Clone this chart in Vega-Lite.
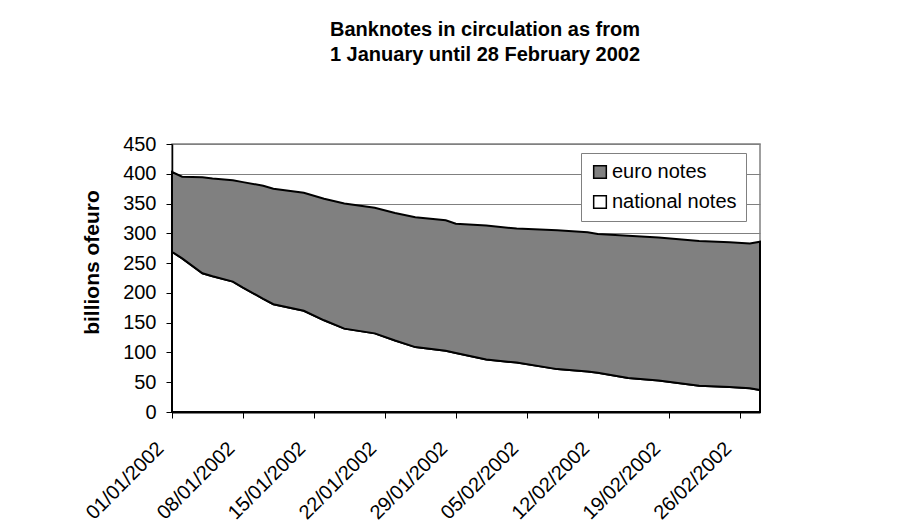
{
  "$schema": "https://vega.github.io/schema/vega-lite/v6.json",
  "autosize": "none",
  "width": 588,
  "height": 268,
  "padding": {"left": 172, "top": 144, "right": 146, "bottom": 119},
  "background": "white",
  "config": {
    "font": "Liberation Sans",
    "view": {"stroke": "#808080", "strokeWidth": 1.5}
  },
  "title": {
    "text": ["Banknotes in circulation as from", "1 January until 28 February 2002"],
    "fontSize": 20,
    "fontWeight": "bold",
    "font": "Liberation Sans",
    "color": "black",
    "anchor": "middle",
    "dx": 19,
    "offset": 69,
    "lineHeight": 25
  },
  "data": {
    "values": [
      {"date": "2002-01-01", "series": "national notes", "value": 269},
      {"date": "2002-01-02", "series": "national notes", "value": 258},
      {"date": "2002-01-04", "series": "national notes", "value": 233},
      {"date": "2002-01-05", "series": "national notes", "value": 228},
      {"date": "2002-01-07", "series": "national notes", "value": 219},
      {"date": "2002-01-08", "series": "national notes", "value": 209},
      {"date": "2002-01-10", "series": "national notes", "value": 190},
      {"date": "2002-01-11", "series": "national notes", "value": 181},
      {"date": "2002-01-14", "series": "national notes", "value": 170},
      {"date": "2002-01-16", "series": "national notes", "value": 154},
      {"date": "2002-01-18", "series": "national notes", "value": 140},
      {"date": "2002-01-21", "series": "national notes", "value": 132},
      {"date": "2002-01-23", "series": "national notes", "value": 120},
      {"date": "2002-01-25", "series": "national notes", "value": 109},
      {"date": "2002-01-28", "series": "national notes", "value": 103},
      {"date": "2002-01-29", "series": "national notes", "value": 99},
      {"date": "2002-02-01", "series": "national notes", "value": 88},
      {"date": "2002-02-04", "series": "national notes", "value": 83},
      {"date": "2002-02-08", "series": "national notes", "value": 72},
      {"date": "2002-02-11", "series": "national notes", "value": 68},
      {"date": "2002-02-12", "series": "national notes", "value": 66},
      {"date": "2002-02-15", "series": "national notes", "value": 57},
      {"date": "2002-02-18", "series": "national notes", "value": 53},
      {"date": "2002-02-22", "series": "national notes", "value": 44},
      {"date": "2002-02-25", "series": "national notes", "value": 42},
      {"date": "2002-02-27", "series": "national notes", "value": 40},
      {"date": "2002-02-28", "series": "national notes", "value": 37},
      {"date": "2002-01-01", "series": "euro notes", "value": 134},
      {"date": "2002-01-02", "series": "euro notes", "value": 137},
      {"date": "2002-01-04", "series": "euro notes", "value": 161},
      {"date": "2002-01-05", "series": "euro notes", "value": 164},
      {"date": "2002-01-07", "series": "euro notes", "value": 170},
      {"date": "2002-01-08", "series": "euro notes", "value": 177},
      {"date": "2002-01-10", "series": "euro notes", "value": 190},
      {"date": "2002-01-11", "series": "euro notes", "value": 194},
      {"date": "2002-01-14", "series": "euro notes", "value": 198},
      {"date": "2002-01-16", "series": "euro notes", "value": 204},
      {"date": "2002-01-18", "series": "euro notes", "value": 210},
      {"date": "2002-01-21", "series": "euro notes", "value": 211},
      {"date": "2002-01-23", "series": "euro notes", "value": 214},
      {"date": "2002-01-25", "series": "euro notes", "value": 218},
      {"date": "2002-01-28", "series": "euro notes", "value": 219},
      {"date": "2002-01-29", "series": "euro notes", "value": 217},
      {"date": "2002-02-01", "series": "euro notes", "value": 225},
      {"date": "2002-02-04", "series": "euro notes", "value": 225},
      {"date": "2002-02-08", "series": "euro notes", "value": 233},
      {"date": "2002-02-11", "series": "euro notes", "value": 234},
      {"date": "2002-02-12", "series": "euro notes", "value": 233},
      {"date": "2002-02-15", "series": "euro notes", "value": 239},
      {"date": "2002-02-18", "series": "euro notes", "value": 240},
      {"date": "2002-02-22", "series": "euro notes", "value": 243},
      {"date": "2002-02-25", "series": "euro notes", "value": 243},
      {"date": "2002-02-27", "series": "euro notes", "value": 243},
      {"date": "2002-02-28", "series": "euro notes", "value": 249}
    ]
  },
  "mark": {"type": "area", "stroke": "black", "strokeWidth": 2, "interpolate": "linear", "opacity": 1, "fillOpacity": 1},
  "encoding": {
    "x": {
      "field": "date",
      "type": "temporal",
      "scale": {"type": "utc", "domain": [{"year": 2002, "month": 1, "date": 1, "utc": true}, {"year": 2002, "month": 2, "date": 28, "utc": true}], "nice": false},
      "axis": {
        "title": null,
        "values": [
          {"year": 2002, "month": 1, "date": 1, "utc": true},
          {"year": 2002, "month": 1, "date": 8, "utc": true},
          {"year": 2002, "month": 1, "date": 15, "utc": true},
          {"year": 2002, "month": 1, "date": 22, "utc": true},
          {"year": 2002, "month": 1, "date": 29, "utc": true},
          {"year": 2002, "month": 2, "date": 5, "utc": true},
          {"year": 2002, "month": 2, "date": 12, "utc": true},
          {"year": 2002, "month": 2, "date": 19, "utc": true},
          {"year": 2002, "month": 2, "date": 26, "utc": true}
        ],
        "format": "%d/%m/%Y",
        "grid": false,
        "domainColor": "black",
        "domainWidth": 2,
        "tickColor": "black",
        "tickSize": 6,
        "tickWidth": 1,
        "labelAngle": -45,
        "labelAlign": "right",
        "labelBaseline": "top",
        "labelPadding": 20,
        "labelOffset": -19,
        "labelFontSize": 20,
        "labelColor": "black",
        "labelFont": "Liberation Sans",
        "labelOverlap": false,
        "labelFlush": false
      }
    },
    "y": {
      "field": "value",
      "type": "quantitative",
      "stack": "zero",
      "scale": {"domain": [0, 450], "nice": false, "zero": true},
      "axis": {
        "title": "billions ofeuro",
        "titleFontSize": 21,
        "titleFontWeight": "bold",
        "titleColor": "black",
        "titleFont": "Liberation Sans",
        "titleX": -80,
        "titleY": 118,
        "titleAngle": -90,
        "titleAlign": "center",
        "titleBaseline": "middle",
        "values": [0, 50, 100, 150, 200, 250, 300, 350, 400, 450],
        "grid": true,
        "gridColor": "#808080",
        "gridWidth": 1,
        "domainColor": "black",
        "domainWidth": 1.5,
        "tickColor": "black",
        "tickSize": 6,
        "labelFontSize": 20,
        "labelColor": "black",
        "labelFont": "Liberation Sans",
        "labelPadding": 10,
        "labelFlush": false
      }
    },
    "color": {
      "field": "series",
      "type": "nominal",
      "scale": {"domain": ["euro notes", "national notes"], "range": ["#808080", "#ffffff"]},
      "legend": {
        "title": null,
        "orient": "none",
        "legendX": 409,
        "legendY": 9,
        "direction": "vertical",
        "strokeColor": "#808080",
        "fillColor": "white",
        "padding": 9,
        "symbolType": "square",
        "symbolSize": 160,
        "symbolStrokeColor": "black",
        "symbolStrokeWidth": 1.5,
        "symbolOpacity": 1,
        "labelFontSize": 20,
        "labelFont": "Liberation Sans",
        "labelColor": "black",
        "labelOffset": 2,
        "rowPadding": 10
      }
    },
    "order": {"field": "series", "sort": "descending"}
  }
}
